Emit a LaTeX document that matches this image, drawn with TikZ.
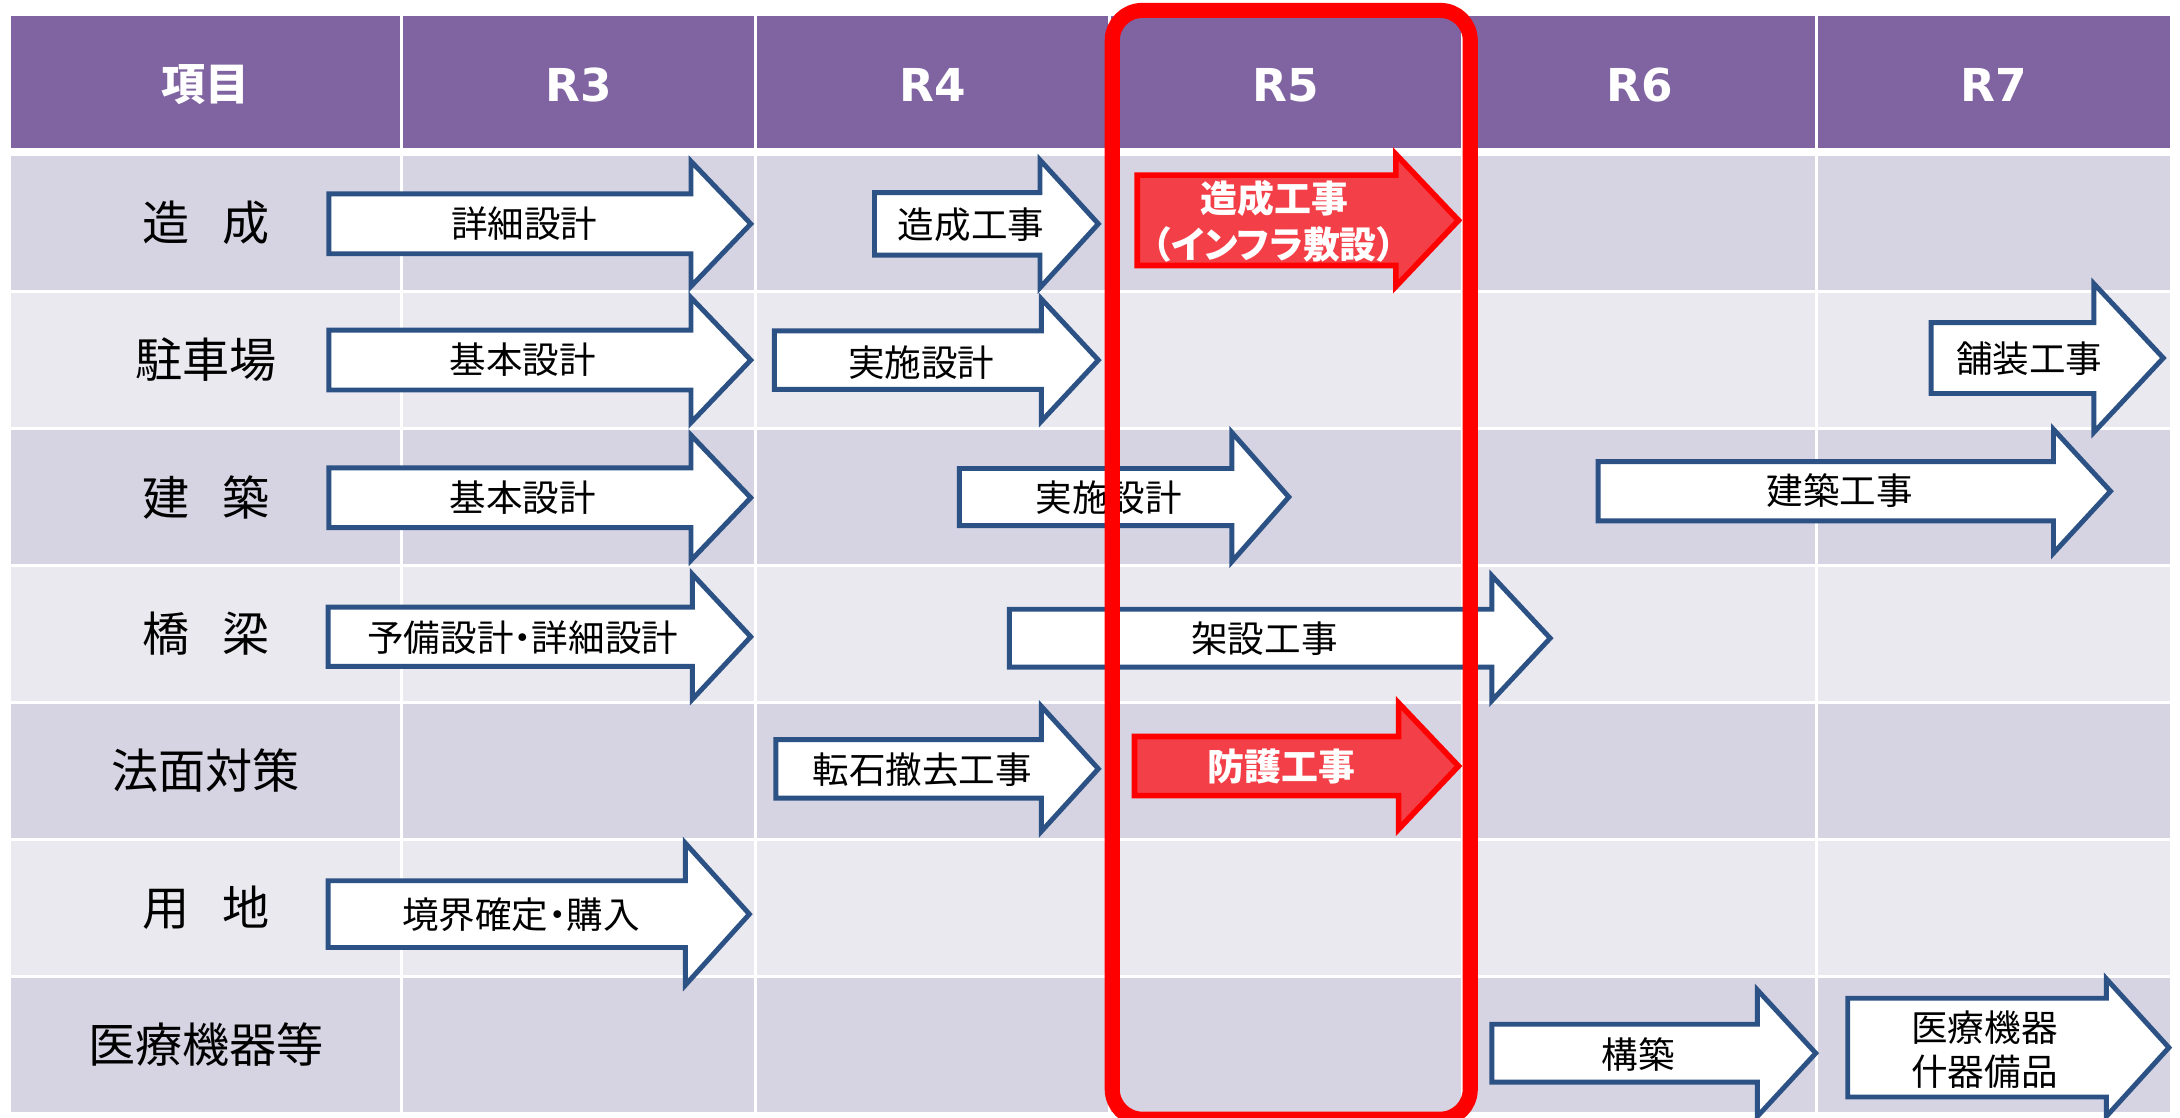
\documentclass[tikz,border=0pt]{standalone}
\usepackage{fontspec}
\setmainfont{Noto Sans CJK JP}
\newfontfamily\yearfont{DejaVu Sans}
\definecolor{headpurple}{RGB}{128,100,162}
\definecolor{banddark}{RGB}{214,211,226}
\definecolor{bandlight}{RGB}{235,233,240}
\definecolor{arrowblue}{RGB}{44,82,133}
\definecolor{arrowred}{RGB}{243,64,72}
\tikzset{%
  head text/.style={
    text=white,
    font=\bfseries\fontsize{12.5}{15}\selectfont
  },
  year text/.style={
    text=white,
    font=\yearfont\bfseries\fontsize{12.9}{15}\selectfont
  },
  item text/.style={font=\fontsize{13.4}{16}\selectfont},
  task text/.style={align=center, font=\fontsize{10.4}{12.7}\selectfont},
  hot text/.style={
    align=center,
    text=white,
    font=\bfseries\fontsize{10.5}{13.3}\selectfont
  },
  task arrow/.style={draw=arrowblue, fill=white, line width=1.4pt},
  hot arrow/.style={draw=red, fill=arrowred, line width=1.6pt},
  grid line/.style={white, line width=0.85pt},
}
% block arrow: [style] x0, x head, x tip, y mid, body half, head half
\newcommand{\taskarrow}[7][task arrow]{%
  \draw[#1] (#2,#5-#6) -- (#3,#5-#6) -- (#3,#5-#7) -- (#4,#5)
    -- (#3,#5+#7) -- (#3,#5+#6) -- (#2,#5+#6) -- cycle;}
\newcommand{\narrowdot}{{\addfontfeature{RawFeature=+palt}・}}

\begin{document}
\begin{tikzpicture}[x=0.013903cm, y=-0.013903cm]
    \useasboundingbox (0,0) rectangle (1568,804);
    \fill[white] (0,0) rectangle (1568,804);

    % table
    \fill[headpurple] (8,11.5) rectangle (1561,106.7);
    \fill[banddark]  (8,112.5) rectangle (1561,208.5);
    \fill[bandlight] (8,211)   rectangle (1561,307);
    \fill[banddark]  (8,309.5) rectangle (1561,405.5);
    \fill[bandlight] (8,408)   rectangle (1561,504);
    \fill[banddark]  (8,506.5) rectangle (1561,602.5);
    \fill[bandlight] (8,605)   rectangle (1561,701);
    \fill[banddark]  (8,703.5) rectangle (1561,799.5);
    \draw[grid line] (289,11.5)    -- (289,799.5);
    \draw[grid line] (543.4,11.5)  -- (543.4,799.5);
    \draw[grid line] (797.8,11.5)  -- (797.8,799.5);
    \draw[grid line] (1052.2,11.5) -- (1052.2,799.5);
    \draw[grid line] (1306.6,11.5) -- (1306.6,799.5);

    \node (item) [head text] at (148,61) {項目};
    \node (r3) [year text] at (416.2,61) {R3};
    \node (r4) [year text] at (670.6,61) {R4};
    \node (r5) [year text] at (925,61) {R5};
    \node (r6) [year text] at (1179.4,61) {R6};
    \node (r7) [year text] at (1433.8,61) {R7};

    \node (zosei)  [item text] at (148,160.5) {造\hspace{0.7em}成};
    \node (chusha) [item text] at (148,259)   {駐車場};
    \node (kenchi) [item text] at (148,357.5) {建\hspace{0.7em}築};
    \node (kyory)  [item text] at (148,456)   {橋\hspace{0.7em}梁};
    \node (norimn) [item text] at (148,554.5) {法面対策};
    \node (yochi)  [item text] at (148,653)   {用\hspace{0.7em}地};
    \node (iryo)   [item text] at (148,751.5) {医療機器等};

    % arrows
    \taskarrow{236.5}{497}{540}{161}{21.5}{45}
    \taskarrow{629}{748}{790}{161}{22.5}{46}
    \taskarrow[hot arrow]{818}{1004}{1049}{158.5}{32.5}{47.5}
    \taskarrow{236.5}{497}{540}{259}{21.5}{45}
    \taskarrow{557}{749}{790}{259}{21}{44}
    \taskarrow{1389}{1506}{1556}{257.5}{25.5}{53.5}
    \taskarrow{236.5}{497}{540}{358}{21.5}{45}
    \taskarrow{690}{886}{927}{357.5}{20.5}{46.5}
    \taskarrow{1149.5}{1477}{1518}{353.3}{21.3}{44.5}
    \taskarrow{236}{498}{540}{458}{21.3}{45}
    \taskarrow{726}{1073}{1115}{459}{20.8}{45}
    \taskarrow{558}{749}{790}{553}{21}{45}
    \taskarrow[hot arrow]{816}{1006}{1049}{551}{21.3}{45.3}
    \taskarrow{236}{493}{539}{657.5}{24}{51}
    \taskarrow{1073}{1264}{1306}{757.5}{20.8}{45.5}
    \taskarrow{1329}{1515}{1560}{753.5}{35.5}{49.5}

    \node (a1) [task text] at (377,161)     {詳細設計};
    \node (a2) [task text] at (698.4,161.8) {造成工事};
    \node (a3) [hot text]  at (916.4,159.2)
      {造成工事\\{\addfontfeature{RawFeature=+palt}（インフラ敷設）}};
    \node (b1) [task text] at (376,259)     {基本設計};
    \node (b2) [task text] at (662.7,260.7) {実施設計};
    \node (b3) [task text] at (1459.5,258)  {舗装工事};
    \node (c1) [task text] at (376,358)     {基本設計};
    \node (c2) [task text] at (797.4,357.8) {実施設計};
    \node (c3) [task text] at (1323.2,353.2) {建築工事};
    \node (d1) [task text] at (376,458.8)   {予備設計\narrowdot 詳細設計};
    \node (d2) [task text] at (909.5,459.7) {架設工事};
    \node (e1) [task text] at (663.4,553.8) {転石撤去工事};
    \node (e2) [hot text]  at (921.7,551.5) {防護工事};
    \node (f1) [task text] at (374.7,658.1) {境界確定\narrowdot 購入};
    \node (g1) [task text] at (1178.4,758.5) {構築};
    \node (g2) [task text] at (1427.4,755)  {医療機器\\什器備品};

    % R5 frame
    \draw[red, line width=4.3pt, rounded corners=0.3cm]
      (800,7.5) rectangle (1057.5,805);
\end{tikzpicture}
\end{document}
